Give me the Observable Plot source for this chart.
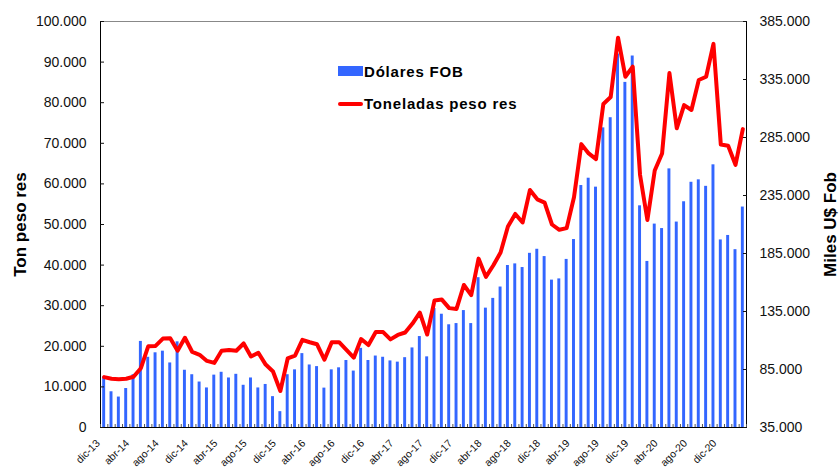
<!DOCTYPE html>
<html><head><meta charset="utf-8">
<script src="https://cdn.jsdelivr.net/npm/d3@7"></script>
<script src="https://cdn.jsdelivr.net/npm/@observablehq/plot@0.6"></script>
<style>
body{margin:0;background:#fff;}
#wrap{position:relative;width:840px;height:469px;font-family:"Liberation Sans",Arial,sans-serif;}
.leg{position:absolute;font-weight:bold;font-size:15px;letter-spacing:0.8px;color:#000;white-space:nowrap;line-height:1;}
.sw{position:absolute;}
</style></head><body><div id="wrap"></div>
<script>
// Monthly series from dic-13 to mar-21
const tickLabels = ["dic-13","abr-14","ago-14","dic-14","abr-15","ago-15","dic-15","abr-16","ago-16","dic-16","abr-17","ago-17","dic-17","abr-18","ago-18","dic-18","abr-19","ago-19","dic-19","abr-20","ago-20","dic-20"];
// Dólares FOB (miles U$, right axis)
const dolaresFOB = [78750,65800,61250,68600,80500,109200,95550,99400,100800,90650,108850,84350,80500,74200,69100,80150,82600,77700,80850,71400,77700,69100,72100,61600,48650,80500,84700,98700,88900,87500,68950,84700,86450,92750,83650,103250,92750,96600,95550,92400,91350,95200,103600,113400,95900,137550,132650,123550,124600,135800,124600,164150,137900,146300,156100,174650,176050,172900,185150,188650,182350,162050,163100,179900,197050,243600,249900,242200,293300,302050,357000,332500,355250,226100,178150,210350,206500,257950,212100,229600,246400,248500,242900,261450,196700,200550,188300,225050];
// Toneladas peso res (left axis)
const toneladas = [12400,12000,11900,12000,12500,14600,20000,20100,21900,22000,18900,22100,18600,17900,16400,15900,18900,19100,18900,20700,17500,18400,15500,13800,9000,17000,17700,21600,21000,20500,16700,21000,21000,19100,17200,21800,20300,23500,23500,21700,22800,23400,25600,28300,22900,31300,31500,29400,29200,35100,32600,41600,37100,39900,43100,49500,52600,50500,58500,56200,55400,50000,48700,49100,56700,69800,67500,66100,79700,81400,96000,86400,88900,62200,51100,63300,67500,87300,73700,79400,78200,85600,86400,94500,69700,69400,64700,73500];
const leftTicks = [0,10000,20000,30000,40000,50000,60000,70000,80000,90000,100000];
const rightTicks = [35000,85000,135000,185000,235000,285000,335000,385000];

const n = toneladas.length;
const rows = toneladas.map((t, i) => ({i, ton: t, fob: dolaresFOB[i]}));
const toLeft = v => (v - 35000) / 3.5; // right-axis value to left-axis units
const fmt = d3.formatLocale({decimal: ",", thousands: ".", grouping: [3], currency: ["$", ""]}).format(",");
const labelPos = tickLabels.map((_, k) => k * 4 + 0.5);

const chart = Plot.plot({
  width: 840,
  height: 469,
  marginLeft: 100,
  marginRight: 94,
  marginTop: 21,
  marginBottom: 42,
  style: {fontFamily: "Liberation Sans, Arial, sans-serif", fontSize: "14px", color: "#111", background: "#fff"},
  x: {type: "linear", domain: [0, n]},
  y: {domain: [0, 100000]},
  marks: [
    Plot.rectY(rows, {x1: "i", x2: d => d.i + 1, y: d => toLeft(d.fob), fill: "#3366ff", insetLeft: 2.2, insetRight: 2.2}),
    Plot.line(rows, {x: d => d.i + 0.5, y: "ton", stroke: "#ff0000", strokeWidth: 4, strokeLinejoin: "round"}),
    Plot.frame({anchor: "top", stroke: "#888"}),
    Plot.frame({anchor: "left", stroke: "#000"}),
    Plot.frame({anchor: "right", stroke: "#000"}),
    Plot.frame({anchor: "bottom", stroke: "#000"}),
    Plot.axisY({ticks: leftTicks, tickFormat: fmt, tickSize: -4, tickPadding: 18, label: null, fontSize: 14}),
    Plot.axisY({anchor: "right", ticks: rightTicks.map(toLeft), tickFormat: d => fmt(Math.round(d * 3.5 + 35000)), tickSize: -4, tickPadding: 17, label: null, fontSize: 14}),
    Plot.axisX({ticks: d3.range(0, n + 1), tickFormat: () => "", tickSize: -3, stroke: "#555", label: null}),
    Plot.axisX({ticks: labelPos, tickFormat: d => tickLabels[(d - 0.5) / 4], tickRotate: -45, tickSize: 0, tickPadding: 6, dx: -6, dy: 8, label: null, fontSize: 10.5}),
    Plot.text(["Ton peso res"], {frameAnchor: "left", textAnchor: "middle", rotate: -90, dx: -80, fontWeight: "bold", fontSize: 17, fill: "#000"}),
    Plot.text(["Miles U$ Fob"], {frameAnchor: "right", textAnchor: "middle", rotate: -90, dx: 84, fontWeight: "bold", fontSize: 17, fill: "#000"})
  ]
});
const wrap = document.getElementById("wrap");
wrap.appendChild(chart);

const legend = [
  {name: "Dólares FOB", kind: "bar", color: "#3366ff", top: 64},
  {name: "Toneladas peso res", kind: "line", color: "#ff0000", top: 96}
];
for (const l of legend) {
  const sw = document.createElement("div");
  sw.className = "sw";
  sw.style.left = "338px";
  sw.style.width = "25px";
  sw.style.background = l.color;
  if (l.kind === "bar") { sw.style.top = (l.top + 2) + "px"; sw.style.height = "10px"; }
  else { sw.style.top = (l.top + 6) + "px"; sw.style.height = "4px"; sw.style.borderRadius = "2px"; }
  wrap.appendChild(sw);
  const tx = document.createElement("div");
  tx.className = "leg";
  tx.style.left = "364px";
  tx.style.top = l.top + "px";
  tx.textContent = l.name;
  wrap.appendChild(tx);
}
</script></body></html>
